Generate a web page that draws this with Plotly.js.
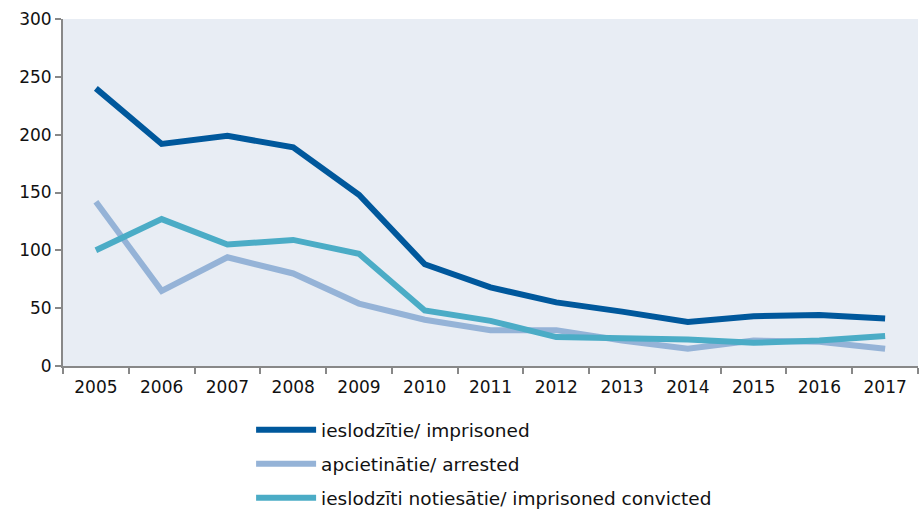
<!DOCTYPE html>
<html><head><meta charset="utf-8">
<script src="https://cdn.plot.ly/plotly-3.0.1.min.js"></script>
<style>body{margin:0;background:#fff}#c{width:919px;height:509px}</style>
</head><body><div id="c"></div>
<script>
const years = ['2005','2006','2007','2008','2009','2010','2011','2012','2013','2014','2015','2016','2017'];
const imprisoned = [240,192,199,189,148,88,68,55,47,38,43,44,41];
const arrested = [142,65,94,80,54,40,31,31,22,15,22,21,15];
const convicted = [100,127,105,109,97,48,39,25,24,23,20,22,26];
const names = ['ieslodzītie/ imprisoned','apcietinātie/ arrested','ieslodzīti notiesātie/ imprisoned convicted'];
const colors = ['#00589C','#95B3D7','#4BACC6'];
const series = [imprisoned, arrested, convicted];
const order = [1,0,2];
const traces = order.map(i => ({
  x: years, y: series[i], type:'scatter', mode:'lines', name:names[i],
  line:{color:colors[i], width:6}, legendgroup:'g'+i, legendrank:i+1
}));
Plotly.newPlot('c', traces, {
  width:919, height:509,
  margin:{l:63,r:1,t:19,b:143,autoexpand:false},
  paper_bgcolor:'#ffffff', plot_bgcolor:'#E8EDF4',
  font:{family:'DejaVu Sans, Verdana, sans-serif', size:17, color:'#111'},
  xaxis:{type:'category', range:[-0.5,12.5], tickson:'boundaries', ticks:'outside', ticklen:6, tickcolor:'#888', tickwidth:2,
    ticklabelstandoff:5,
    showline:true, linecolor:'#888', linewidth:2, showgrid:false, zeroline:false},
  yaxis:{range:[0,300], dtick:50, ticks:'outside', ticklen:6, tickcolor:'#888', tickwidth:2,
    showline:true, linecolor:'#888', linewidth:2, showgrid:false, zeroline:false},
  showlegend:true,
  legend:{x:0.22, y:-0.13, xanchor:'left', yanchor:'top', orientation:'v', tracegroupgap:7, itemwidth:60,
    font:{size:18.5}, bgcolor:'rgba(0,0,0,0)'}
}, {staticPlot:true});
</script></body></html>
